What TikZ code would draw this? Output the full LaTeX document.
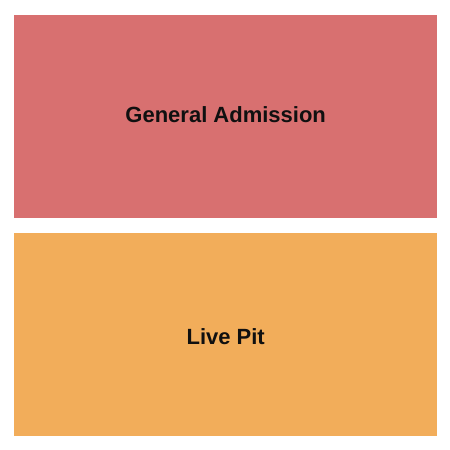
\documentclass[tikz,border=0pt]{standalone}
\usepackage{fontspec}
\setmainfont{Liberation Sans}
\usepackage{tikz}
\usetikzlibrary{positioning}
\definecolor{gacolor}{HTML}{D87070}
\definecolor{pitcolor}{HTML}{F2AD5A}
\definecolor{txtcolor}{HTML}{101010}

\begin{document}
\begin{tikzpicture}[
  x=1pt, y=-1pt,
  area/.style={draw=none, inner sep=0pt, anchor=north west, minimum width=423pt, minimum height=203pt},
  lbl/.style={font=\fontsize{22}{24}\selectfont\bfseries, text=txtcolor},
]
  \useasboundingbox (0,0) rectangle (450,450);

  % General admission block
  \node[area, fill=gacolor] (ga) at (14,15) {};
  \node[lbl, yshift=2pt] at (ga.center) {General Admission};

  % Pit block
  \node[area, fill=pitcolor] (pit) at (14,233) {};
  \node[lbl, yshift=-2pt] at (pit.center) {Live Pit};
\end{tikzpicture}
\end{document}
